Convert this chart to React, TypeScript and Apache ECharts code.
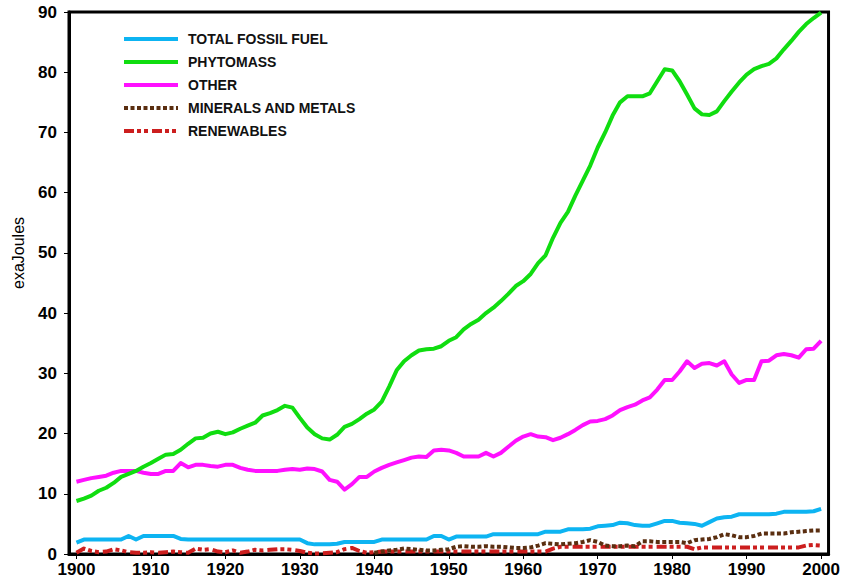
import React, { useEffect, useRef } from "react";
import * as echarts from "echarts";

const YEARS: number[] = Array.from({ length: 101 }, (_, i) => 1900 + i);
const X_LABELS: number[] = [1900, 1910, 1920, 1930, 1940, 1950, 1960, 1970, 1980, 1990, 2000];

const FOSSIL = [
  1.9, 2.4, 2.4, 2.4, 2.4, 2.4, 2.4, 3.0, 2.4, 3.0,
  3.0, 3.0, 3.0, 3.0, 2.5, 2.4, 2.4, 2.4, 2.4, 2.4,
  2.4, 2.4, 2.4, 2.4, 2.4, 2.4, 2.4, 2.4, 2.4, 2.4,
  2.4, 1.8, 1.6, 1.6, 1.6, 1.7, 2.0, 2.0, 2.0, 2.0,
  2.0, 2.4, 2.4, 2.4, 2.4, 2.4, 2.4, 2.4, 3.0, 3.0,
  2.4, 2.9, 2.9, 2.9, 2.9, 2.9, 3.3, 3.3, 3.3, 3.3,
  3.3, 3.3, 3.3, 3.7, 3.7, 3.7, 4.1, 4.1, 4.1, 4.2,
  4.6, 4.7, 4.8, 5.2, 5.1, 4.8, 4.7, 4.7, 5.1, 5.5,
  5.5, 5.2, 5.1, 5.0, 4.7, 5.3, 5.9, 6.1, 6.2, 6.6,
  6.6, 6.6, 6.6, 6.6, 6.7, 7.0, 7.0, 7.0, 7.0, 7.1,
  7.5,
];

const PHYTOMASS = [
  8.8, 9.2, 9.7, 10.5, 11.0, 11.8, 12.8, 13.3, 13.8, 14.5,
  15.1, 15.8, 16.5, 16.6, 17.3, 18.3, 19.2, 19.3, 20.0, 20.3,
  19.9, 20.2, 20.8, 21.3, 21.8, 23.0, 23.4, 23.9, 24.6, 24.3,
  22.6, 21.0, 19.9, 19.2, 19.0, 19.8, 21.1, 21.6, 22.4, 23.3,
  24.0, 25.3, 27.8, 30.5, 32.0, 33.0, 33.8, 34.0, 34.1, 34.5,
  35.4, 36.0, 37.3, 38.2, 38.9, 40.0, 40.9, 42.0, 43.2, 44.5,
  45.3, 46.5, 48.3, 49.6, 52.5, 55.0, 56.8, 59.5, 62.0, 64.5,
  67.5, 70.0, 72.8, 75.0, 76.0, 76.0, 76.0, 76.5, 78.5, 80.5,
  80.3, 78.5, 76.3, 74.0, 73.0, 72.9, 73.5, 75.2, 76.8, 78.3,
  79.6, 80.5, 81.0, 81.4, 82.3, 83.8, 85.2, 86.7, 88.0, 89.0,
  89.9,
];

const OTHER = [
  12.0, 12.3, 12.6, 12.8, 13.0, 13.5, 13.8, 13.8, 13.8, 13.5,
  13.3, 13.3, 13.8, 13.8, 15.1, 14.4, 14.8, 14.8, 14.6, 14.5,
  14.8, 14.8, 14.3, 14.0, 13.8, 13.8, 13.8, 13.8, 14.0, 14.1,
  14.0, 14.2, 14.1, 13.7, 12.3, 12.0, 10.7, 11.6, 12.8, 12.8,
  13.7, 14.3, 14.8, 15.2, 15.6, 16.0, 16.2, 16.1, 17.2, 17.3,
  17.2, 16.8, 16.2, 16.2, 16.2, 16.8, 16.2, 16.8, 17.8, 18.8,
  19.5, 19.9, 19.5, 19.4, 18.9, 19.3, 19.9, 20.6, 21.4, 22.0,
  22.1, 22.4, 23.0, 23.9, 24.4, 24.8, 25.5, 26.0, 27.3, 28.9,
  28.9, 30.3, 32.0, 30.9, 31.6, 31.7, 31.3, 32.0, 29.8, 28.4,
  28.9, 28.9, 32.0, 32.1, 33.0, 33.2, 33.0, 32.6, 34.0, 34.1,
  35.4,
];

const MINERALS_START = 1940;
const MINERALS = [
  0.2, 0.4, 0.6, 0.7, 0.9, 0.8, 0.7, 0.6, 0.6, 0.7,
  0.8, 1.2, 1.3, 1.2, 1.2, 1.3, 1.2, 1.2, 1.1, 1.0,
  1.0, 1.1, 1.4, 1.8, 1.7, 1.6, 1.7, 1.8, 2.0, 2.3,
  2.0, 1.4, 1.3, 1.3, 1.4, 1.3, 2.1, 2.1, 2.0, 2.0,
  2.0, 2.0, 1.8, 2.3, 2.4, 2.5, 2.8, 3.3, 3.1, 2.8,
  2.8, 3.0, 3.4, 3.4, 3.4, 3.4, 3.6, 3.7, 3.8, 3.9,
  3.9,
];

const RENEWABLES = [
  0.2, 0.9, 0.5, 0.3, 0.4, 0.8, 0.6, 0.3, 0.2, 0.2,
  0.3, 0.2, 0.3, 0.4, 0.3, 0.2, 0.9, 0.7, 0.8, 0.4,
  0.3, 0.6, 0.2, 0.4, 0.7, 0.6, 0.7, 0.8, 0.8, 0.7,
  0.5, 0.2, 0.1, 0.1, 0.2, 0.3, 0.8, 1.0, 0.5, 0.2,
  0.3, 0.4, 0.4, 0.4, 0.4, 0.4, 0.4, 0.4, 0.4, 0.4,
  0.4, 0.4, 0.4, 0.4, 0.4, 0.4, 0.4, 0.4, 0.4, 0.4,
  0.4, 0.4, 0.4, 0.4, 0.9, 1.2, 1.2, 1.2, 1.2, 1.2,
  1.2, 1.2, 1.2, 1.2, 1.2, 1.2, 1.2, 1.2, 1.2, 1.2,
  1.2, 1.2, 1.2, 0.8, 1.1, 1.1, 1.1, 1.1, 1.1, 1.1,
  1.1, 1.1, 1.1, 1.1, 1.1, 1.1, 1.1, 1.1, 1.4, 1.5,
  1.4,
];

const NAMES = ["TOTAL FOSSIL FUEL", "PHYTOMASS", "OTHER", "MINERALS AND METALS", "RENEWABLES"];

const FONT = '"Liberation Sans", Arial, Helvetica, sans-serif';

function pairs(values: number[], start: number): [number, number][] {
  return values.map((v, i) => [start + i, v]);
}

export default function App() {
  const ref = useRef<HTMLDivElement>(null);
  useEffect(() => {
    if (!ref.current) return;
    const chart = echarts.init(ref.current, null, { renderer: "svg" });
    const lineSeries = (name: string, data: [number, number][], color: string, type: any, z: number) => ({
      name,
      type: "line",
      data,
      symbol: "none",
      showSymbol: false,
      z,
      itemStyle: { color },
      lineStyle: { color, width: 4, type, cap: "butt", join: "round" },
      emphasis: { disabled: true },
    });
    chart.setOption({
      animation: false,
      backgroundColor: "#ffffff",
      textStyle: { fontFamily: FONT },
      grid: {
        left: 69,
        right: 12,
        top: 12,
        bottom: 29,
        show: true,
        borderColor: "#000",
        borderWidth: 3,
        backgroundColor: "#fff",
      },
      xAxis: {
        type: "value",
        min: YEARS[0] - 1,
        max: YEARS[YEARS.length - 1] + 1,
        axisLine: { show: true, onZero: false, lineStyle: { color: "#000", width: 3 } },
        axisTick: { show: true, customValues: X_LABELS, length: 5, lineStyle: { color: "#000", width: 1 } },
        axisLabel: {
          customValues: X_LABELS,
          color: "#000",
          fontSize: 17,
          fontWeight: "bold",
          fontFamily: FONT,
          margin: 7,
          formatter: (v: number) => String(v),
        },
        splitLine: { show: false },
      },
      yAxis: {
        type: "value",
        min: 0,
        max: 90,
        interval: 10,
        axisLine: { show: true, lineStyle: { color: "#000", width: 3 } },
        axisTick: { show: true, length: 5, lineStyle: { color: "#000", width: 1 } },
        axisLabel: { color: "#000", fontSize: 17, fontWeight: "bold", fontFamily: FONT, margin: 12 },
        splitLine: { show: false },
      },
      legend: {
        data: NAMES,
        orient: "vertical",
        left: 117,
        top: 27,
        itemWidth: 54,
        itemHeight: 14,
        itemGap: 9,
        selectedMode: false,
        itemStyle: { opacity: 0, borderWidth: 0 },
        lineStyle: { width: 4 },
        textStyle: { fontSize: 14, fontWeight: "bold", color: "#111", fontFamily: FONT, padding: [0, 0, 0, 5] },
      },
      graphic: [
        {
          type: "text",
          x: 18,
          y: 253,
          rotation: Math.PI / 2,
          style: {
            text: "exaJoules",
            fontSize: 16,
            fontFamily: FONT,
            fill: "#000",
            align: "center",
            verticalAlign: "middle",
          },
        },
      ],
      series: [
        lineSeries(NAMES[0], pairs(FOSSIL, YEARS[0]), "#0DB4F2", "solid", 3),
        lineSeries(NAMES[1], pairs(PHYTOMASS, YEARS[0]), "#10DD10", "solid", 5),
        lineSeries(NAMES[2], pairs(OTHER, YEARS[0]), "#FF10FF", "solid", 4),
        lineSeries(NAMES[3], pairs(MINERALS, MINERALS_START), "#5A2E10", [4, 2.5], 2),
        lineSeries(NAMES[4], pairs(RENEWABLES, YEARS[0]), "#CC1E1E", [10, 3, 4, 3, 4, 4], 1),
      ],
    });
    return () => chart.dispose();
  }, []);
  return (
    <div
      ref={ref}
      style={{ position: "fixed", left: 0, top: 0, width: 843, height: 583, background: "#fff" }}
    />
  );
}
